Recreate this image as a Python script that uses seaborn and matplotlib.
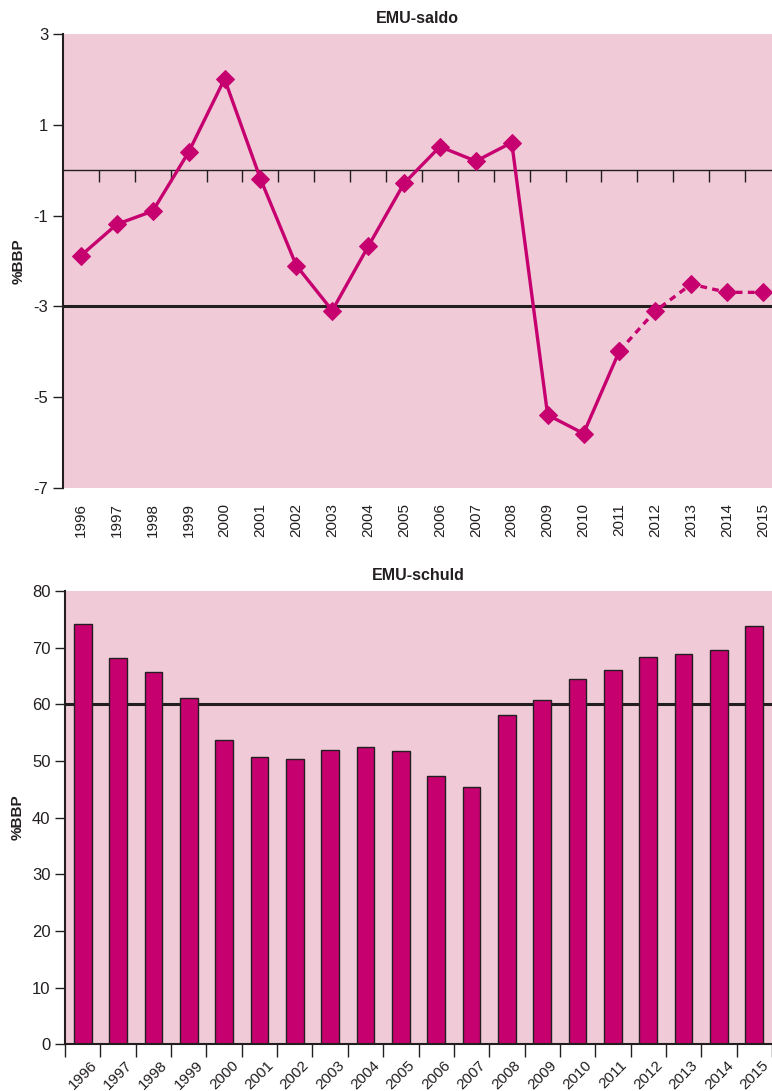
import matplotlib
matplotlib.use("Agg")
import matplotlib.pyplot as plt
import numpy as np
import pandas as pd
import seaborn as sns

# Data
years = [str(y) for y in range(1996, 2016)]
saldo = [-1.88, -1.19, -0.90, 0.40, 2.01, -0.19, -2.10, -3.09, -1.68, -0.29,
         0.52, 0.20, 0.61, -5.39, -5.80, -3.98, -3.10, -2.51, -2.69, -2.69]
schuld = [74.1, 68.2, 65.7, 61.1, 53.7, 50.7, 50.4, 51.9, 52.4, 51.8,
          47.4, 45.4, 58.1, 60.7, 64.4, 66.0, 68.3, 68.8, 69.5, 73.8]
forecast_from = 15  # 2011: dashed from here on

MAGENTA = "#C6006F"
PINK = "#F0CBD7"
DARK = "#231F20"

sns.set_style("ticks")
plt.rcParams["font.family"] = ["Liberation Sans", "DejaVu Sans"]
plt.rcParams["axes.unicode_minus"] = False
plt.rcParams["text.color"] = DARK
plt.rcParams["axes.labelcolor"] = DARK
plt.rcParams["xtick.color"] = DARK
plt.rcParams["ytick.color"] = DARK

df = pd.DataFrame({"idx": np.arange(len(years)), "year": years,
                   "saldo": saldo, "schuld": schuld})

fig = plt.figure(figsize=(7.72, 10.91), dpi=100)
ax1 = fig.add_axes([0.0816, 0.5527, 0.9184, 0.4161])
ax2 = fig.add_axes([0.0842, 0.0428, 0.9158, 0.4155])

# ---- EMU-saldo ----
ax1.set_facecolor(PINK)
ax1.axhline(0, color=DARK, lw=1.0, zorder=1)
ax1.axhline(-3, color=DARK, lw=2.2, zorder=1)
ax1.vlines(np.arange(0.5, len(years) - 1, 1), -0.27, 0, color=DARK, lw=1.0, zorder=1)

solid = df.iloc[:forecast_from + 1]
dashed = df.iloc[forecast_from:]
sns.lineplot(data=solid, x="idx", y="saldo", ax=ax1, color=MAGENTA, lw=2.4,
             marker="D", markersize=9, markeredgecolor=MAGENTA, zorder=3)
sns.lineplot(data=dashed, x="idx", y="saldo", ax=ax1, color=MAGENTA, lw=2.4,
             linestyle=(0, (2, 1.6)), marker="D", markersize=9,
             markeredgecolor=MAGENTA, zorder=3)

ax1.set_xlim(-0.5, 19.25)
ax1.set_ylim(-7, 3)
ax1.set_yticks([3, 1, -1, -3, -5, -7])
ax1.set_xticks(range(len(years)))
ax1.set_xticklabels(years, rotation=90, fontsize=11)
ax1.tick_params(axis="x", length=0, pad=11)
ax1.tick_params(axis="y", length=7, width=1, labelsize=12)
for s in ["top", "right", "bottom"]:
    ax1.spines[s].set_visible(False)
ax1.spines["left"].set_color(DARK)
ax1.spines["left"].set_linewidth(1.5)
ax1.set_xlabel("")
ax1.set_ylabel("%BBP", fontsize=11, fontweight="bold", labelpad=6)
ax1.set_title("EMU-saldo", fontsize=11.5, fontweight="bold", pad=8)

# ---- EMU-schuld ----
ax2.set_facecolor(PINK)
ax2.axhline(60, color=DARK, lw=2.2, zorder=0.5)
sns.barplot(data=df, x="year", y="schuld", ax=ax2, color=MAGENTA, width=0.5,
            edgecolor=DARK, linewidth=1.0, saturation=1, zorder=2)

ax2.set_xlim(-0.5, 19.25)
ax2.set_ylim(0, 80)
ax2.set_yticks(range(0, 81, 10))
boundaries = np.arange(-0.5, len(years), 1)
ax2.set_xticks(boundaries)
ax2.set_xticklabels([""] * len(boundaries))
ax2.set_xticks(range(len(years)), minor=True)
ax2.set_xticklabels(years, minor=True, rotation=45, ha="center", fontsize=11)
ax2.tick_params(axis="x", which="major", length=9, width=1)
ax2.tick_params(axis="x", which="minor", length=0, pad=10)
ax2.tick_params(axis="y", length=7, width=1, labelsize=12)
for s in ["top", "right"]:
    ax2.spines[s].set_visible(False)
for s in ["left", "bottom"]:
    ax2.spines[s].set_color(DARK)
    ax2.spines[s].set_linewidth(1.5)
ax2.set_xlabel("")
ax2.set_ylabel("%BBP", fontsize=11, fontweight="bold", labelpad=5)
ax2.set_title("EMU-schuld", fontsize=11.5, fontweight="bold", pad=8)

fig.savefig("out.png", dpi=100)
